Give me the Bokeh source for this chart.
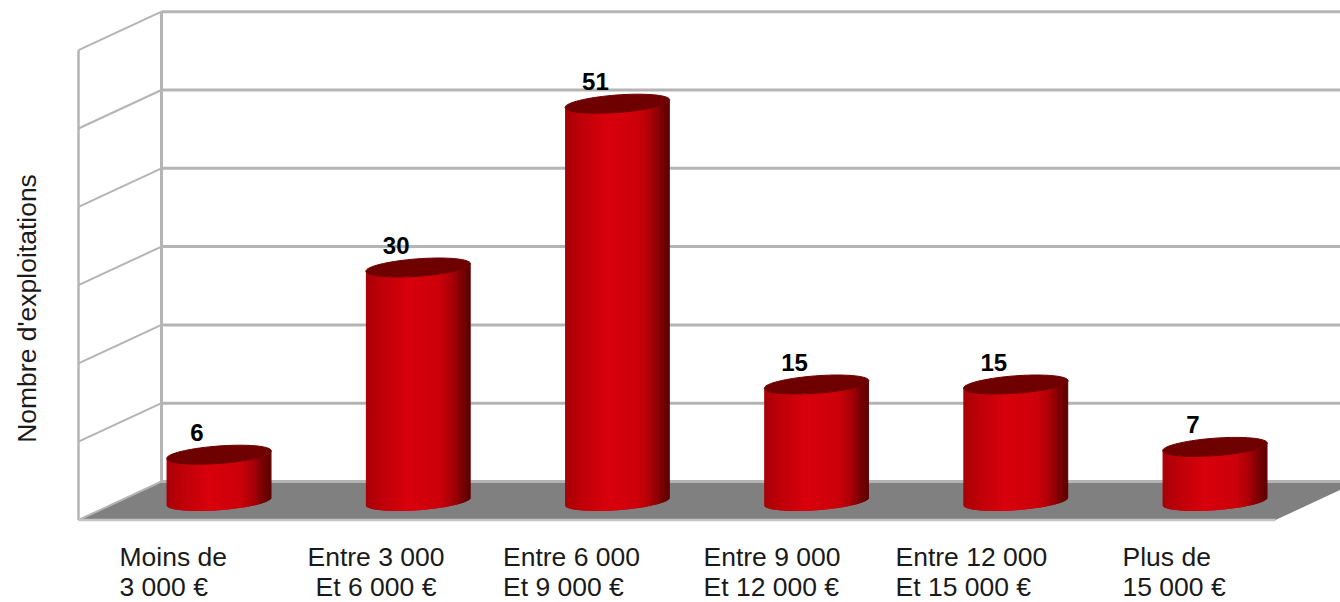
import numpy as np
from bokeh.plotting import figure
from bokeh.embed import file_html
from bokeh.resources import INLINE
from bokeh.core.properties import value

# ---- data ----
categories = [["Moins de", "3 000 €"], ["Entre 3 000", "Et 6 000 €"], ["Entre 6 000", "Et 9 000 €"],
              ["Entre 9 000", "Et 12 000 €"], ["Entre 12 000", "Et 15 000 €"], ["Plus de", "15 000 €"]]
counts = [6, 30, 51, 15, 15, 7]
grid_values = [0, 10, 20, 30, 40, 50, 60]
y_title = "Nombre d'exploitations"

# ---- scales: one category = 199.2 px, one unit = 7.8 px ----
PX_X, PX_Y = 199.2, 7.8
X0, Y0 = 218.5, 501.0           # pixel of category 0, value 0
L, R, T, B = 0, 1340, 0, 602    # page pixels covered by the plot
def dx(px): return (px - X0) / PX_X
def vy(py): return (Y0 - py) / PX_Y

p = figure(width=R - L, height=B - T, output_backend="svg", toolbar_location=None,
           x_range=(dx(L), dx(R)), y_range=(vy(B), vy(T)), min_border=0,
           outline_line_color=None)
p.axis.visible = False
p.grid.visible = False
p.background_fill_color = "white"
p.border_fill_color = "white"

# ---- depth offsets of the 3D box ----
back_x, front_x = dx(161), dx(78)
back_y, front_y = vy(481), vy(519.5)      # where value 0 lands on back / front planes
front_right = dx(1275)
back_right = front_right + (back_x - front_x)
wall = "#b4b4b4"
grid_scale = 78.3 / (10 * PX_Y)           # the box grid pitch on the page

# floor
p.patch([front_x, back_x, back_right, front_right], [front_y, back_y, back_y, front_y],
        fill_color="#808080", line_color=None)
# back wall grid, side wall grid
for g in grid_values:
    gy = g * grid_scale
    p.line([back_x, dx(R)], [back_y + gy, back_y + gy], line_color=wall, line_width=3)
    p.line([front_x, back_x], [front_y + gy, back_y + gy], line_color=wall, line_width=2)
top = grid_values[-1] * grid_scale
p.line([back_x, back_x], [back_y, back_y + top], line_color=wall, line_width=3)
p.line([front_x, front_x], [front_y, front_y + top], line_color=wall, line_width=2.5)
p.line([front_x, front_right], [front_y, front_y], line_color="#c4c4c4", line_width=2.5)

# ---- cylinders ----
A, S, C = 48.0 / PX_X, 20.8 / PX_X, 9.5 / PX_Y
phi = np.arctan2(S, A)
ts = np.linspace(np.pi + phi, 2 * np.pi + phi, 49)
stops_pos = [0.0, 0.12, 0.40, 0.70, 0.82, 0.92, 1.0]
stops_rgb = np.array([[168, 0, 8], [186, 0, 8], [216, 0, 12], [204, 0, 10], [170, 0, 8], [120, 0, 4], [92, 0, 0]])
def shade(f):
    return "#%02x%02x%02x" % tuple(int(round(np.interp(f, stops_pos, stops_rgb[:, k]))) for k in range(3))

xs_b, ys_b, col_b, xs_t, ys_t = [], [], [], [], []
ax = A * np.cos(ts) + S * np.sin(ts)
ay = C * np.sin(ts)
w = ax.max() - ax.min()
for i, v in enumerate(counts):
    for j in range(len(ts) - 1):
        # each strip reaches to the far end of the next one, later strips paint over it: no seams
        k = min(j + 2, len(ts) - 1)
        xs_b.append(list(i + ax[[j, k, k, j]]))
        ys_b.append(list(np.array([ay[j], ay[k], v + ay[k], v + ay[j]])))
        col_b.append(shade((0.5 * (ax[j] + ax[j + 1]) - ax.min()) / w))
    tt = np.linspace(0, 2 * np.pi, 73)
    xs_t.append(list(i + A * np.cos(tt) + S * np.sin(tt)))
    ys_t.append(list(v + C * np.sin(tt)))
p.patches(xs_b, ys_b, fill_color=col_b, line_color=None)
p.patches(xs_t, ys_t, fill_color="#6e0000", line_color="#6e0000", line_width=1)

# ---- value labels ----
font = value("Liberation Sans")
p.text([i + dx(196.5) for i in range(len(counts))], [v + 22.5 / PX_Y for v in counts],
       text=[str(v) for v in counts], text_font=font, text_font_size="24px", text_font_style="bold",
       text_color="#000000", text_align="center", text_baseline="middle")

# ---- category labels ----
lab_left = [119, 375.5, 502.5, 703, 895, 1122]
lab_align = ["left", "center", "left", "left", "left", "left"]
for cat, lx, al in zip(categories, lab_left, lab_align):
    p.text([dx(lx)] * 2, [vy(556), vy(586.5)], text=cat, text_font=font, text_font_size="26.5px",
           text_color="#1a1a1a", text_align=al, text_baseline="middle")

p.text([dx(26)], [vy(308)], text=[y_title], angle=np.pi / 2, text_font=font, text_font_size="26.5px",
       text_color="#1a1a1a", text_align="center", text_baseline="middle")

open("out.html", "w").write(file_html(p, INLINE))
